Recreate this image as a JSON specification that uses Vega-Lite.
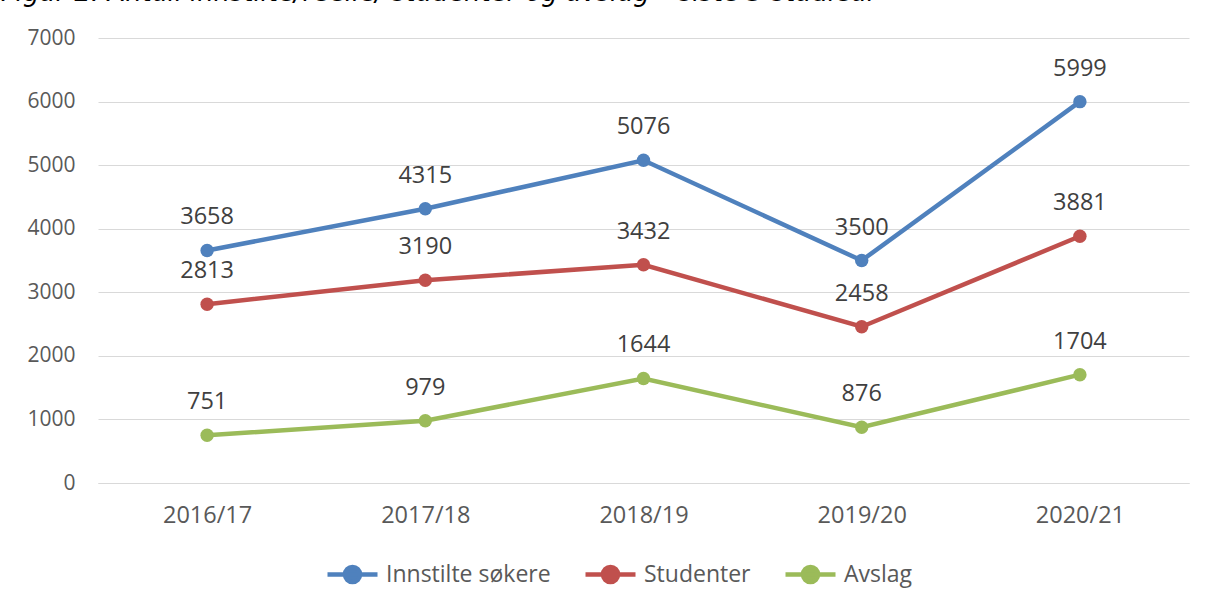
{
  "$schema": "https://vega.github.io/schema/vega-lite/v6.json",
  "width": 1091,
  "height": 445,
  "autosize": "none",
  "padding": {"left": 98, "top": 38, "right": 18, "bottom": 129},
  "background": "white",
  "title": {
    "text": "Figur 2: Antall innstilte/reelle/ studenter og avslag – siste 5 studieår",
    "anchor": "start",
    "font": "DejaVu Sans",
    "fontSize": 25.8,
    "fontStyle": "italic",
    "fontWeight": "normal",
    "color": "#000000",
    "baseline": "alphabetic",
    "offset": 0,
    "dx": -26
  },
  "data": {
    "values": [
      {"year": "2016/17", "series": "Innstilte søkere", "value": 3658},
      {"year": "2017/18", "series": "Innstilte søkere", "value": 4315},
      {"year": "2018/19", "series": "Innstilte søkere", "value": 5076},
      {"year": "2019/20", "series": "Innstilte søkere", "value": 3500},
      {"year": "2020/21", "series": "Innstilte søkere", "value": 5999},
      {"year": "2016/17", "series": "Studenter", "value": 2813},
      {"year": "2017/18", "series": "Studenter", "value": 3190},
      {"year": "2018/19", "series": "Studenter", "value": 3432},
      {"year": "2019/20", "series": "Studenter", "value": 2458},
      {"year": "2020/21", "series": "Studenter", "value": 3881},
      {"year": "2016/17", "series": "Avslag", "value": 751},
      {"year": "2017/18", "series": "Avslag", "value": 979},
      {"year": "2018/19", "series": "Avslag", "value": 1644},
      {"year": "2019/20", "series": "Avslag", "value": 876},
      {"year": "2020/21", "series": "Avslag", "value": 1704}
    ]
  },
  "encoding": {
    "x": {
      "field": "year",
      "type": "ordinal",
      "sort": null,
      "scale": {"type": "point", "padding": 0.5},
      "axis": {
        "title": null,
        "labelAngle": 0,
        "labelFont": "Open Sans",
        "labelFontSize": 23.5,
        "labelColor": "#595959",
        "labelPadding": 20,
        "ticks": false,
        "domain": true,
        "domainColor": "#d9d9d9",
        "domainWidth": 1,
        "grid": false
      }
    },
    "y": {
      "field": "value",
      "type": "quantitative",
      "scale": {"domain": [0, 7000], "nice": false},
      "axis": {
        "title": null,
        "values": [0, 1000, 2000, 3000, 4000, 5000, 6000, 7000],
        "format": "d",
        "labelFont": "Open Sans",
        "labelFontSize": 21,
        "labelColor": "#595959",
        "labelPadding": 23,
        "ticks": false,
        "domain": false,
        "grid": true,
        "gridColor": "#d9d9d9",
        "gridWidth": 1
      }
    }
  },
  "layer": [
    {
      "mark": {"type": "line", "strokeWidth": 4.5},
      "encoding": {
        "color": {
          "field": "series",
          "type": "nominal",
          "scale": {
            "domain": ["Innstilte søkere", "Studenter", "Avslag"],
            "range": ["#4f81bd", "#c0504d", "#9bbb59"]
          },
          "legend": {
            "title": null,
            "orient": "none",
            "direction": "horizontal",
            "legendX": 227,
            "legendY": 509,
            "labelFont": "Open Sans",
            "labelFontSize": 23,
            "labelColor": "#595959",
            "labelOffset": 6,
            "labelLimit": 400,
            "columnPadding": 25,
            "symbolType": "M-1,0H1M0.3,0A0.3,0.3,0,1,1,-0.3,0A0.3,0.3,0,1,1,0.3,0Z",
            "symbolSize": 2500,
            "symbolStrokeWidth": 4.5,
            "symbolOpacity": 1,
            "encode": {
              "symbols": {
                "update": {
                  "fill": {"scale": "color", "field": "value"},
                  "stroke": {"scale": "color", "field": "value"},
                  "fillOpacity": {"value": 1},
                  "strokeOpacity": {"value": 1}
                }
              }
            }
          }
        }
      }
    },
    {
      "mark": {"type": "point", "filled": true, "size": 180, "opacity": 1},
      "encoding": {
        "color": {"field": "series", "type": "nominal"}
      }
    },
    {
      "mark": {
        "type": "text",
        "font": "Open Sans",
        "fontSize": 23.5,
        "color": "#404040",
        "baseline": "middle",
        "dy": -33
      },
      "encoding": {
        "text": {"field": "value", "type": "quantitative", "format": "d"}
      }
    }
  ],
  "config": {"view": {"stroke": null}}
}
